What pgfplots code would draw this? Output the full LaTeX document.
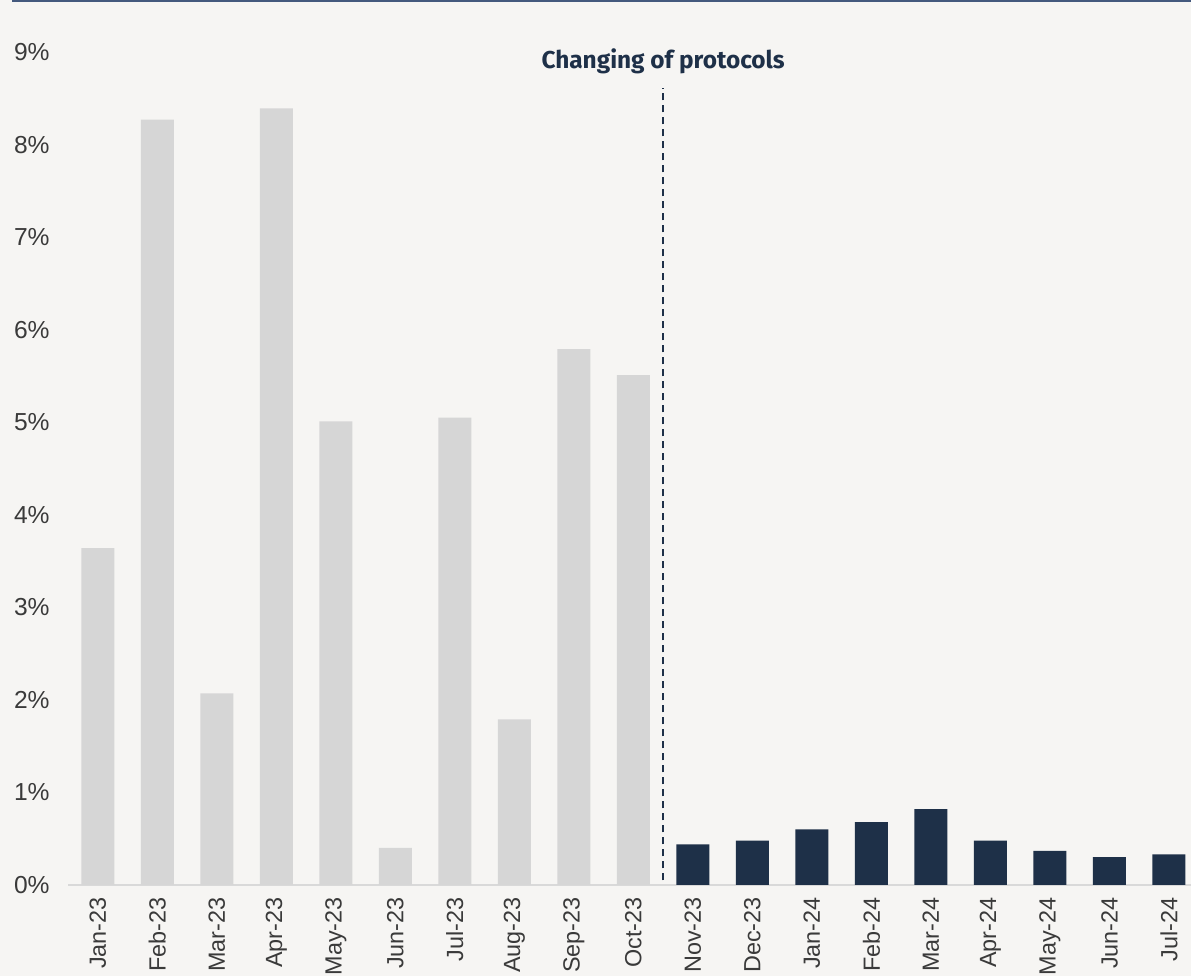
\documentclass[border=0pt]{standalone}
\usepackage{fontspec}
\setmainfont{Liberation Sans}
\newfontfamily\notefont{Fira Sans}
\usepackage{pgfplots}
\pgfplotsset{compat=1.18}

\definecolor{bgcol}{HTML}{F6F5F3}
\definecolor{topline}{HTML}{44597D}
\definecolor{oldbar}{HTML}{D6D6D6}
\definecolor{newbar}{HTML}{1E3048}
\definecolor{axisgray}{HTML}{D9D9D9}
\definecolor{ticktext}{HTML}{3A3A3A}

\begin{document}
\begin{tikzpicture}
\useasboundingbox (0,0) rectangle (595.5pt,488pt);
\fill[bgcol] (0,0) rectangle (595.5pt,488pt);
\draw[topline, line width=1pt] (6pt,487.5pt) -- (595.5pt,487.5pt);
\begin{scope}
\clip (0,0) rectangle (595.5pt,488pt);
\begin{axis}[
  at={(34pt,45.5pt)}, anchor=south west,
  scale only axis, width=561.5pt, height=416.5pt,
  xmin=-0.5, xmax=18.37, ymin=0, ymax=9,
  axis x line*=bottom, axis y line*=left,
  x axis line style={draw=axisgray, line width=1pt},
  y axis line style={draw=none},
  major tick length=0pt,
  xtick={0,...,18},
  xticklabels={Jan-23,Feb-23,Mar-23,Apr-23,May-23,Jun-23,Jul-23,Aug-23,Sep-23,Oct-23,Nov-23,Dec-23,Jan-24,Feb-24,Mar-24,Apr-24,May-24,Jun-24,Jul-24},
  x tick label style={rotate=90, anchor=east, inner sep=0pt, font=\fontsize{11.7}{13}\selectfont, text=ticktext},
  xticklabel shift=6pt,
  ytick={0,...,9},
  yticklabels={0\%,1\%,2\%,3\%,4\%,5\%,6\%,7\%,8\%,9\%},
  y tick label style={anchor=east, inner sep=0pt, font=\fontsize{12.3}{14}\selectfont, text=ticktext},
  yticklabel shift=9pt,
  ybar, bar width=16.5pt,
  clip=false,
]
% before the protocol change
\addplot[fill=oldbar, draw=none, bar shift=0pt] coordinates {
  (0,3.64) (1,8.27) (2,2.07) (3,8.39) (4,5.01) (5,0.40) (6,5.05) (7,1.79) (8,5.79) (9,5.51)
};
% after the protocol change
\addplot[fill=newbar, draw=none, bar shift=0pt] coordinates {
  (10,0.44) (11,0.48) (12,0.60) (13,0.68) (14,0.82) (15,0.48) (16,0.37) (17,0.30) (18,0.33)
};
\draw[newbar, line width=1pt, dash pattern=on 3.5pt off 2.5pt] (axis cs:9.5,0.05) -- (axis cs:9.5,8.61);
\node[font=\notefont\bfseries\fontsize{12.2}{14}\selectfont, text=newbar] at (axis cs:9.5,8.9) {Changing of protocols};
\end{axis}
\end{scope}
\end{tikzpicture}
\end{document}
